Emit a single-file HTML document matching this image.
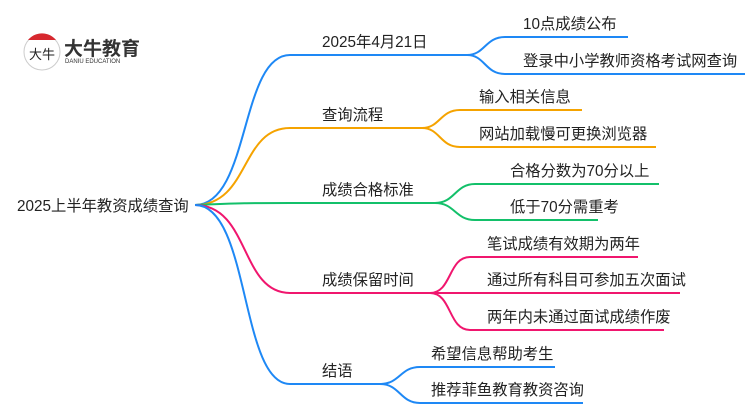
<!DOCTYPE html>
<html><head><meta charset="utf-8"><style>
html,body{margin:0;padding:0;background:#fff}
svg text{font-family:"Liberation Sans","Noto Sans CJK SC",sans-serif;font-size:15.3px;fill:#222}
</style></head><body>
<svg width="750" height="410" viewBox="0 0 750 410" xmlns="http://www.w3.org/2000/svg">
<g fill="none" stroke-width="2">
<path d="M195 205 C250 205,240 55,290 55 L467 55" stroke="#1e88f5"/>
<path d="M195 205 C250 205,240 128,290 128 L422 128" stroke="#f5a300"/>
<path d="M195 205 C240 203,250 203,290 203 L435 203" stroke="#13c06a"/>
<path d="M195 205 C250 205,240 293,290 293 L430 293" stroke="#f0166e"/>
<path d="M195 205 C250 205,240 384,290 384 L380 384" stroke="#1e88f5"/>
<path d="M467 55 C485 55,485 37,505 37 L628 37" stroke="#1e88f5"/>
<path d="M467 55 C485 55,485 74,505 74 L745 74" stroke="#1e88f5"/>
<path d="M422 128 C440 128,440 110,460 110 L582 110" stroke="#f5a300"/>
<path d="M422 128 C440 128,440 147,460 147 L656 147" stroke="#f5a300"/>
<path d="M435 203 C455 203,455 184,475 184 L659 184" stroke="#13c06a"/>
<path d="M435 203 C455 203,455 220,475 220 L598 220" stroke="#13c06a"/>
<path d="M430 293 C452 293,448 257,470 257 L638 257" stroke="#f0166e"/>
<path d="M430 293 L680 293" stroke="#f0166e"/>
<path d="M430 293 C452 293,448 330,470 330 L664 330" stroke="#f0166e"/>
<path d="M380 384 C400 384,400 367,420 367 L555 367" stroke="#1e88f5"/>
<path d="M380 384 C400 384,400 403,420 403 L583 403" stroke="#1e88f5"/>
</g>
<circle cx="42" cy="52" r="18" fill="#fff" stroke="#ccc" stroke-width="1"/>
<path d="M28 40 A18 18 0 0 1 56 40 Z" fill="#d7282f"/>
<text x="29" y="59" style="font-size:13px;fill:#222">大牛</text>
<text x="64" y="55" style="font-size:19px;font-weight:bold;fill:#333">大牛教育</text>
<text x="65" y="63" style="font-size:6px;fill:#333">DANIU EDUCATION</text>
<text x="17" y="211">2025上半年教资成绩查询</text>
<text x="322" y="47">2025年4月21日</text>
<text x="322" y="120">查询流程</text>
<text x="322" y="195">成绩合格标准</text>
<text x="322" y="285">成绩保留时间</text>
<text x="322" y="376">结语</text>
<text x="523" y="29">10点成绩公布</text>
<text x="523" y="66">登录中小学教师资格考试网查询</text>
<text x="479" y="102">输入相关信息</text>
<text x="479" y="139">网站加载慢可更换浏览器</text>
<text x="510" y="176">合格分数为70分以上</text>
<text x="510" y="212">低于70分需重考</text>
<text x="487" y="249">笔试成绩有效期为两年</text>
<text x="487" y="285">通过所有科目可参加五次面试</text>
<text x="487" y="322">两年内未通过面试成绩作废</text>
<text x="431" y="359">希望信息帮助考生</text>
<text x="431" y="395">推荐菲鱼教育教资咨询</text>
</svg>
</body></html>
